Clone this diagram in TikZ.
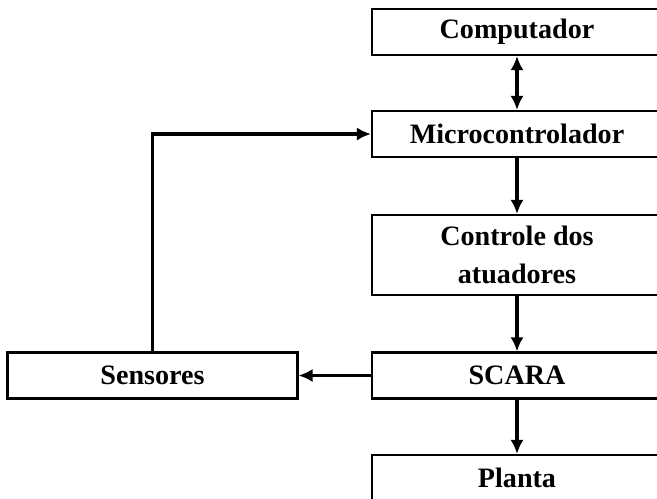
\documentclass[tikz,border=0pt]{standalone}
\usepackage{fontspec}
\setmainfont{Liberation Serif}
\usetikzlibrary{arrows.meta}
\begin{document}
\begin{tikzpicture}[>={Latex[length=8pt,width=7.5pt]}, x=0.02cm, y=-0.02cm,
  bloco/.style={draw, line width=1.2pt, rectangle, minimum width=5.8cm, minimum height=0.92cm,
    align=center, font=\fontsize{16}{22}\selectfont\bfseries, inner sep=0pt},
  seta/.style={line width=1.8pt}]
\clip (0,0) rectangle (657,498);
\node(Comp)[bloco] at (517,32) {Computador};
\node(Micro)[bloco] at (517,134) {Microcontrolador};
\node(Ctrl)[bloco, minimum height=1.6cm] at (517,255) {Controle dos\\atuadores};
\node(Scara)[bloco] at (517,375.5) {SCARA};
\node(Planta)[bloco] at (517,478) {Planta};
\node(Sens)[bloco] at (152.5,375.5) {Sensores};

\draw[seta] (Comp.south) edge[<->] (Micro.north);
\draw[seta] (Micro.south) edge[->] (Ctrl.north);
\draw[seta] (Ctrl.south) edge[->] (Scara.north);
\draw[seta] (Scara.south) edge[->] (Planta.north);
\draw[seta,->] (Scara.west) -- (Sens.east);
\draw[seta,->] (Sens.north) |- (Micro.west);
\end{tikzpicture}
\end{document}
